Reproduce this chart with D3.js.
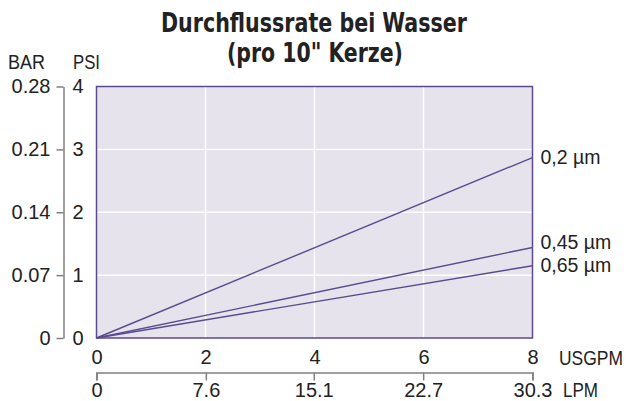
<!DOCTYPE html>
<html>
<head>
<meta charset="utf-8">
<script src="https://cdn.jsdelivr.net/npm/d3@7"></script>
<style>
  body { margin: 0; background: #fff; }
  svg text { font-family: "Liberation Sans", Arial, sans-serif; fill: #222; }
  .title { font-family: "Liberation Sans Narrow", "DejaVu Sans Condensed", sans-serif; font-weight: bold; }
</style>
</head>
<body>
<svg id="chart" width="628" height="401"></svg>
<script>
// flow in USGPM, pressure drop in PSI
const flowGpm = [0, 8];
const series = [
  { name: '0,2 µm', psi: [0, 2.87], dy: 0 },
  { name: '0,45 µm', psi: [0, 1.44], dy: -5 },
  { name: '0,65 µm', psi: [0, 1.15], dy: -0.5 }
];
const gpmTicks = [0, 2, 4, 6, 8];
const psiTicks = [0, 1, 2, 3, 4];
const barTicks = [0, 0.07, 0.14, 0.21, 0.28];
const lpmTicks = [0, 7.6, 15.1, 22.7, 30.3];

const purple = '#5b4a8e';
const grey = '#808080';
const fs = 20;

const svg = d3.select('#chart');

const x = d3.scaleLinear().domain([0, 8]).range([96.5, 532.5]);
const y = d3.scaleLinear().domain([0, 4]).range([338, 86.5]);
const yBar = d3.scaleLinear().domain([0, 0.28]).range(y.range());
const xLpm = d3.scaleLinear().domain([0, 30.3]).range(x.range());

// condensed text: squeeze horizontally to a given width
function squeezed(txt, xPos, yPos, len, size, cls) {
  const t = svg.append('text').attr('font-size', size).text(txt);
  if (cls) t.attr('class', cls);
  const w = t.node().getComputedTextLength();
  t.attr('transform', `translate(${xPos},${yPos}) scale(${len / w},1)`);
  return t;
}

// title
squeezed('Durchflussrate bei Wasser', 314 - 153, 32, 306, 27, 'title');
squeezed('(pro 10" Kerze)', 315 - 88, 62, 176, 27, 'title');

// unit labels
squeezed('BAR', 8, 69, 37, fs);
squeezed('PSI', 73, 69, 27, fs);

// plot background
svg.append('rect')
  .attr('x', x(0)).attr('y', y(4))
  .attr('width', x(8) - x(0)).attr('height', y(0) - y(4))
  .attr('fill', '#e6e3ec');

// gridlines
svg.append('g').selectAll('line')
  .data(gpmTicks.slice(1, -1))
  .join('line')
  .attr('x1', d => x(d)).attr('x2', d => x(d))
  .attr('y1', y(0)).attr('y2', y(4))
  .attr('stroke', '#fff').attr('stroke-width', 1.5);
svg.append('g').selectAll('line')
  .data(psiTicks.slice(1, -1))
  .join('line')
  .attr('x1', x(0)).attr('x2', x(8))
  .attr('y1', d => y(d)).attr('y2', d => y(d))
  .attr('stroke', '#fff').attr('stroke-width', 1.5);

// plot border
svg.append('rect')
  .attr('x', x(0)).attr('y', y(4))
  .attr('width', x(8) - x(0)).attr('height', y(0) - y(4))
  .attr('fill', 'none').attr('stroke', purple).attr('stroke-width', 1.5);

// series lines
const line = d3.line()
  .x((d, i) => x(flowGpm[i]))
  .y(d => y(d));

svg.append('g').selectAll('path')
  .data(series)
  .join('path')
  .attr('d', d => line(d.psi))
  .attr('fill', 'none')
  .attr('stroke', purple)
  .attr('stroke-width', 1.4);

svg.append('g').selectAll('text')
  .data(series)
  .join('text')
  .attr('x', x(8) + 8)
  .attr('y', d => y(d.psi[d.psi.length - 1]) + d.dy)
  .attr('dy', '0.35em')
  .attr('font-size', 19.5)
  .text(d => d.name);

// PSI labels
const psiAxis = svg.append('g')
  .attr('transform', `translate(${x(0)},0)`)
  .call(d3.axisLeft(y).tickValues(psiTicks).tickSize(0).tickPadding(13).tickFormat(d3.format('d')));
psiAxis.select('.domain').remove();
psiAxis.selectAll('text').attr('font-size', fs).style('font-family', null);

// BAR axis
const barAxis = svg.append('g')
  .attr('transform', 'translate(63.5,0)')
  .call(d3.axisLeft(yBar).tickValues(barTicks).tickSize(7).tickSizeOuter(0).tickPadding(6)
    .tickFormat(d => d === 0 ? '0' : d3.format('.2f')(d)));
barAxis.selectAll('path, line').attr('stroke', grey).attr('stroke-width', 1.5);
barAxis.selectAll('text').attr('font-size', fs).style('font-family', null);

// USGPM labels
const gpmAxis = svg.append('g')
  .attr('transform', `translate(0,${y(0)})`)
  .call(d3.axisBottom(x).tickValues(gpmTicks).tickSize(0).tickPadding(12).tickFormat(d3.format('d')));
gpmAxis.select('.domain').remove();
gpmAxis.selectAll('text').attr('font-size', fs).style('font-family', null);
squeezed('USGPM', 559, 365, 64, fs);

// LPM axis
const lpmAxis = svg.append('g')
  .attr('transform', 'translate(0,372.5)')
  .call(d3.axisBottom(xLpm).tickValues(lpmTicks).tickSize(8).tickSizeOuter(8).tickPadding(2)
    .tickFormat(d => d === 0 ? '0' : d3.format('.1f')(d)));
lpmAxis.selectAll('path, line').attr('stroke', grey).attr('stroke-width', 1.5);
lpmAxis.selectAll('text').attr('font-size', fs).style('font-family', null);
squeezed('LPM', 563, 397, 35, fs);
</script>
</body>
</html>
